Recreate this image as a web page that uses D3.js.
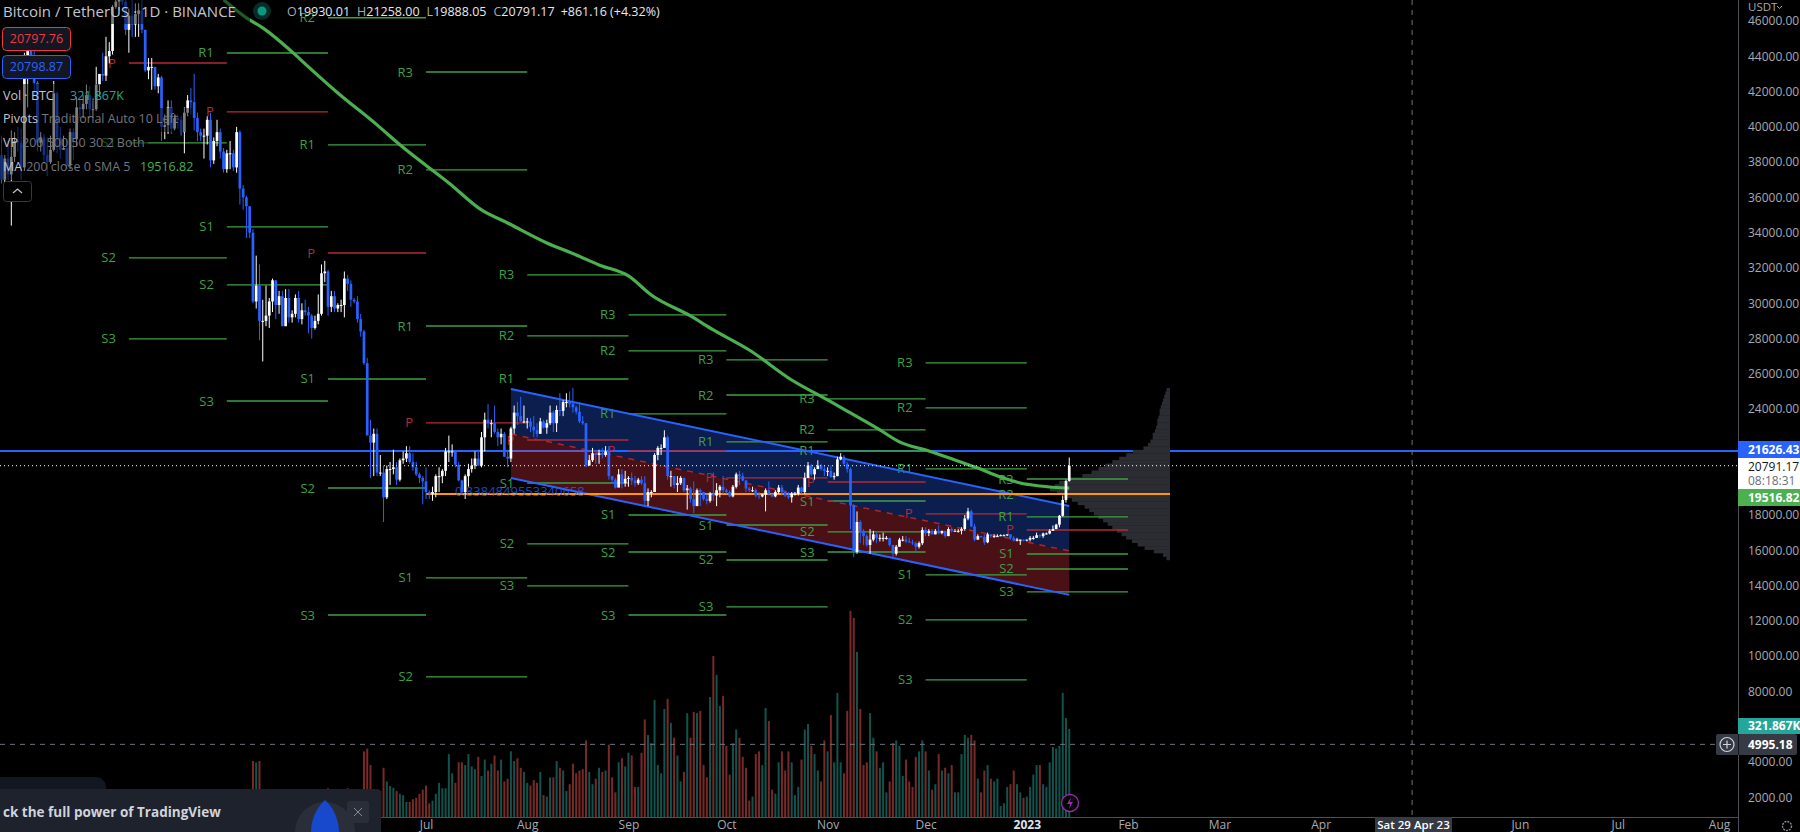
<!DOCTYPE html>
<html>
<head>
<meta charset="utf-8">
<title>BTCUSDT 1D</title>
<script src="https://cdn.jsdelivr.net/npm/d3@7"></script>
<style>
  html, body { margin: 0; background: #000; overflow: hidden; }
  text { font-family: "Open Sans", Roboto, sans-serif; }
</style>
</head>
<body>
<svg id="chart" width="1800" height="832"></svg>
<script>
// daily candles from 20 Feb 2022, one line per month, prices in thousands of USDT
const firstDay = new Date(Date.UTC(2022, 1, 20));

const candleOpen = [
  40.1,38.4,37.0,38.2,37.3,38.3,39.2,39.1,37.7,
  43.2,44.4,44.0,42.5,39.1,39.4,38.4,38.0,38.7,41.9,39.4,38.7,38.8,37.8,39.7,39.3,41.1,41.0,41.3,41.8,41.0,41.0,42.4,43.0,42.9,44.0,44.3,46.8,47.1,47.4,47.1,
  45.5,46.3,45.8,46.4,46.6,45.5,43.2,43.4,43.4,42.3,42.8,40.0,40.1,41.1,39.9,40.5,40.4,39.7,40.8,41.5,41.4,40.5,39.7,39.5,39.5,40.4,38.1,39.2,39.7,38.6,
  37.6,38.5,38.5,37.7,39.7,36.5,36.0,35.5,34.0,30.1,31.0,29.0,29.0,29.3,30.1,31.3,29.9,30.4,28.7,30.3,29.2,29.4,30.3,29.1,29.6,29.5,29.3,28.6,29.0,29.4,31.7,
  31.8,29.8,30.4,29.7,29.9,29.9,31.4,31.1,30.2,30.1,29.1,28.4,26.6,22.5,22.1,22.6,20.4,20.4,19.0,20.6,20.6,20.7,20.0,21.1,21.2,21.5,21.0,20.7,20.3,20.1,
  19.9,19.3,19.2,19.3,20.2,20.2,20.5,21.6,21.6,21.6,20.85,19.96,19.3,20.2,20.6,20.8,21.2,20.8,22.4,23.4,23.2,23.2,22.7,22.4,22.6,21.3,21.2,22.9,23.8,23.6,23.3,
  23.3,23.3,23.0,22.8,22.6,23.3,22.95,23.2,23.8,23.2,23.95,23.9,24.4,24.4,24.3,24.1,23.85,23.3,23.2,20.8,21.1,21.5,21.4,21.5,21.4,21.6,20.2,20.0,19.55,20.3,19.8,
  20.05,20.1,19.95,19.8,20.0,19.8,18.8,19.3,19.3,21.4,21.8,21.8,22.4,20.2,20.2,19.7,19.8,20.1,19.4,19.5,18.9,18.5,19.4,19.3,18.9,18.8,19.2,19.1,19.4,19.6,
  19.4,19.3,19.05,19.6,20.3,20.2,19.95,19.5,19.4,19.4,19.1,19.05,19.15,19.4,19.2,19.05,19.3,19.55,19.3,19.1,19.0,19.2,19.2,19.55,19.3,20.1,20.8,20.3,20.6,20.8,20.6,
  20.5,20.5,20.15,20.2,21.15,21.3,20.9,20.6,18.55,15.9,17.6,17.1,16.8,16.3,16.6,16.9,16.7,16.7,16.7,16.7,16.3,15.8,16.2,16.6,16.6,16.5,16.45,16.4,16.2,16.4,
  17.15,16.97,17.1,16.9,17.1,16.97,17.1,16.8,17.2,17.1,17.1,17.1,17.2,17.8,18.2,17.35,16.6,16.8,16.75,16.45,16.9,16.8,16.8,16.8,16.85,16.85,16.9,16.7,16.55,16.6,16.6,
  16.55,16.6,16.7,16.7,16.85,16.8,16.95,16.95,17.1,17.2,17.45,17.95,18.85,19.93
];
const candleHigh = [
  40.4,39.5,38.4,39.2,39.8,39.7,40.0,39.9,44.2,
  44.9,45.4,44.8,42.6,39.7,39.6,39.4,39.5,42.6,42.0,40.0,39.5,39.3,39.9,39.9,41.7,41.5,41.8,42.4,42.3,41.5,43.4,43.0,44.2,45.1,44.8,46.9,48.2,48.1,47.7,47.6,
  46.7,47.2,47.0,47.0,47.2,45.5,43.9,43.9,43.0,43.0,42.9,40.7,41.5,41.5,40.7,40.7,40.6,41.1,41.8,42.2,43.0,40.8,39.9,39.9,40.6,40.8,39.4,40.4,39.9,38.8,
  38.7,39.2,38.7,40.0,39.8,36.7,36.1,35.5,34.2,32.7,32.2,30.2,31.0,30.3,31.4,31.3,30.7,30.7,30.8,30.8,29.6,30.5,30.7,30.0,30.2,29.8,29.4,29.3,30.5,32.2,32.4,
  31.9,30.7,30.7,30.0,30.2,31.8,31.6,31.3,30.3,30.4,29.4,28.5,26.9,23.4,22.9,22.9,21.4,20.8,20.8,21.0,21.7,21.0,21.2,21.6,21.9,21.9,21.5,21.0,20.4,20.2,
  20.7,19.4,19.6,20.3,20.7,20.6,21.8,22.5,22.0,21.6,21.0,20.0,20.3,20.9,21.2,21.6,21.7,22.7,23.8,24.3,23.4,24.2,22.9,22.9,22.7,21.7,23.0,24.2,24.4,24.7,24.2,
  23.5,23.5,23.6,23.2,23.5,23.4,23.4,24.2,23.9,24.2,24.9,24.5,24.9,25.0,25.2,24.2,24.4,23.6,23.2,21.4,21.8,21.5,21.7,21.8,21.9,21.9,20.2,20.1,20.6,20.6,20.5,
  20.2,20.4,20.2,20.1,20.2,20.2,19.5,19.4,21.5,21.9,22.0,22.8,22.5,20.5,20.2,20.2,20.2,20.1,19.7,19.6,19.9,19.5,19.5,19.3,19.2,19.3,20.4,19.8,19.7,20.2,
  19.5,19.4,19.7,20.4,20.5,20.4,20.0,19.6,19.6,19.5,19.3,19.2,19.5,19.9,19.2,19.4,19.7,19.7,19.3,19.3,19.3,19.3,19.7,19.6,20.4,21.0,20.9,20.7,21.1,20.9,20.8,
  20.7,20.8,20.4,21.3,21.5,21.4,21.0,20.7,18.6,18.2,17.7,17.2,16.9,17.2,17.1,17.0,16.9,17.0,16.8,16.7,16.3,16.3,16.7,16.8,16.8,16.7,16.6,16.5,16.5,17.3,
  17.3,17.2,17.2,17.2,17.4,17.1,17.1,17.3,17.3,17.2,17.2,17.3,18.0,18.4,18.3,17.5,16.9,16.8,16.9,17.0,16.9,16.9,16.9,16.9,16.9,16.9,16.9,16.8,16.7,16.6,16.6,
  16.6,16.8,16.8,17.0,16.9,17.0,17.0,17.2,17.4,17.5,18.0,19.1,20.0,21.258
];
const candleLow = [
  38.0,36.8,36.4,37.0,34.4,38.0,38.6,37.0,37.5,
  41.1,43.3,41.8,38.6,38.6,37.9,37.2,37.9,38.6,38.5,38.2,38.7,37.6,37.6,38.1,38.9,40.5,40.5,41.0,40.5,40.5,40.9,41.7,42.6,42.6,43.6,44.1,46.7,46.6,46.9,45.2,
  44.2,45.1,45.1,45.1,45.3,43.1,42.7,42.1,42.1,41.9,39.2,39.3,39.6,39.6,39.8,39.9,39.5,38.5,40.6,40.7,39.8,39.2,39.2,38.2,39.0,37.7,37.9,38.9,38.2,37.4,
  37.4,37.6,37.5,37.4,35.6,35.3,33.7,33.7,30.0,29.7,27.9,26.7,28.7,28.6,29.5,29.1,29.4,28.7,28.7,28.9,28.9,29.2,28.9,28.8,29.3,28.3,28.0,28.5,28.8,29.3,31.2,
  29.3,29.5,29.5,29.5,29.5,29.2,30.7,29.8,30.0,28.9,28.1,26.5,22.6,20.1,20.2,20.2,20.2,17.6,18.9,19.7,20.3,19.7,19.9,20.9,21.0,20.9,20.5,20.2,19.8,18.6,
  18.9,18.9,18.8,19.0,19.3,19.8,20.2,21.0,21.3,20.7,19.9,19.2,18.9,19.6,20.4,20.6,20.8,20.7,21.6,22.9,22.4,22.6,21.9,22.0,21.3,20.7,21.0,22.6,23.1,23.3,23.2,
  22.9,22.7,22.4,22.4,22.6,22.9,22.6,23.1,22.7,22.7,23.6,23.6,24.1,24.1,23.8,23.7,23.2,23.1,20.7,20.8,21.0,20.9,20.9,21.2,21.3,20.0,19.8,19.5,19.6,19.5,19.6,
  19.6,19.7,19.6,19.7,19.7,18.5,18.5,19.0,19.3,21.1,21.4,21.8,20.0,19.6,19.5,19.3,19.7,19.3,18.3,18.7,18.1,18.6,18.5,18.8,18.6,18.7,18.8,18.5,19.0,19.2,
  19.2,19.0,19.0,19.5,19.7,19.9,19.3,19.3,19.3,19.0,18.9,19.0,18.2,19.1,19.0,19.0,19.2,19.1,19.0,18.9,18.7,19.1,19.1,19.2,19.2,20.1,20.2,20.0,20.6,20.5,20.2,
  20.2,20.1,20.0,20.2,21.1,20.8,20.4,17.2,15.6,15.8,16.4,16.3,16.2,15.8,16.5,16.4,16.5,16.5,16.6,16.2,15.5,15.7,16.2,16.5,16.4,16.4,16.3,15.9,16.1,16.3,
  16.8,16.8,16.9,16.9,16.9,16.9,16.7,16.8,17.0,17.1,17.0,16.9,17.1,17.7,17.3,16.5,16.6,16.7,16.3,16.4,16.7,16.7,16.8,16.8,16.8,16.8,16.6,16.5,16.5,16.3,16.5,
  16.5,16.5,16.6,16.7,16.7,16.7,16.9,16.9,17.1,17.2,17.3,17.9,18.7,19.888
];
const candleClose = [
  38.4,37.0,38.2,37.3,38.3,39.2,39.1,37.7,43.2,
  44.4,44.0,42.5,39.1,39.4,38.4,38.0,38.7,41.9,39.4,38.7,38.8,37.8,39.7,39.3,41.1,41.0,41.3,41.8,41.0,41.0,42.4,43.0,42.9,44.0,44.3,46.8,47.1,47.4,47.1,45.5,
  46.3,45.8,46.4,46.6,45.5,43.2,43.4,43.4,42.3,42.8,40.0,40.1,41.1,39.9,40.5,40.4,39.7,40.8,41.5,41.4,40.5,39.7,39.5,39.5,40.4,38.1,39.2,39.7,38.6,37.6,
  38.5,38.5,37.7,39.7,36.5,36.0,35.5,34.0,30.1,31.0,29.0,29.0,29.3,30.1,31.3,29.9,30.4,28.7,30.3,29.2,29.4,30.3,29.1,29.6,29.5,29.3,28.6,29.0,29.4,31.7,31.8,
  29.8,30.4,29.7,29.9,29.9,31.4,31.1,30.2,30.1,29.1,28.4,26.6,22.5,22.1,22.6,20.4,20.4,19.0,20.6,20.6,20.7,20.0,21.1,21.2,21.5,21.0,20.7,20.3,20.1,19.9,
  19.3,19.2,19.3,20.2,20.2,20.5,21.6,21.6,21.6,20.85,19.96,19.3,20.2,20.6,20.8,21.2,20.8,22.4,23.4,23.2,23.2,22.7,22.4,22.6,21.3,21.2,22.9,23.8,23.6,23.3,23.3,
  23.3,23.0,22.8,22.6,23.3,22.95,23.2,23.8,23.2,23.95,23.9,24.4,24.4,24.3,24.1,23.85,23.3,23.2,20.8,21.1,21.5,21.4,21.5,21.4,21.6,20.2,20.0,19.55,20.3,19.8,20.05,
  20.1,19.95,19.8,20.0,19.8,18.8,19.3,19.3,21.4,21.8,21.8,22.4,20.2,20.2,19.7,19.8,20.1,19.4,19.5,18.9,18.5,19.4,19.3,18.9,18.8,19.2,19.1,19.4,19.6,19.4,
  19.3,19.05,19.6,20.3,20.2,19.95,19.5,19.4,19.4,19.1,19.05,19.15,19.4,19.2,19.05,19.3,19.55,19.3,19.1,19.0,19.2,19.2,19.55,19.3,20.1,20.8,20.3,20.6,20.8,20.6,20.5,
  20.5,20.15,20.2,21.15,21.3,20.9,20.6,18.55,15.9,17.6,17.1,16.8,16.3,16.6,16.9,16.7,16.7,16.7,16.7,16.3,15.8,16.2,16.6,16.6,16.5,16.45,16.4,16.2,16.4,17.15,
  16.97,17.1,16.9,17.1,16.97,17.1,16.8,17.2,17.1,17.1,17.1,17.2,17.8,18.2,17.35,16.6,16.8,16.75,16.45,16.9,16.8,16.8,16.8,16.85,16.85,16.9,16.7,16.55,16.6,16.6,16.55,
  16.6,16.7,16.7,16.85,16.8,16.95,16.95,17.1,17.2,17.45,17.95,18.85,19.93,20.791
];
// volume in thousands of BTC
const volumeK = [
  30,65,70,65,95,60,30,40,80,
  85,70,55,60,40,25,50,50,50,95,50,25,25,55,60,50,50,30,25,25,30,35,40,35,25,25,30,55,60,50,40,
  55,35,25,40,50,60,55,40,30,30,60,50,45,45,30,25,30,40,40,30,50,50,25,20,50,60,50,60,50,35,
  30,50,50,60,85,70,35,60,205,200,205,95,70,50,50,60,50,60,55,60,25,25,60,45,45,80,75,25,25,70,60,
  105,50,40,30,35,60,105,45,40,60,60,240,250,190,100,95,95,180,130,113,107,95,85,80,55,55,65,70,85,100,
  115,50,60,85,125,105,105,230,160,125,200,200,190,230,185,175,220,150,210,170,195,225,170,210,130,140,240,205,215,180,165,
  125,115,135,125,165,80,75,145,145,205,180,170,95,120,195,160,170,175,280,165,120,140,180,165,170,265,145,90,200,215,185,
  235,225,110,110,235,357,300,270,428,190,160,395,432,344,290,225,130,165,380,290,384,380,388,190,145,439,589,520,406,443,
  260,155,270,320,290,220,180,60,75,230,240,190,399,351,100,85,200,240,170,240,200,80,110,210,320,340,260,230,170,130,280,
  240,373,200,454,200,160,388,754,728,604,395,190,200,380,290,240,180,200,90,130,270,280,260,150,210,130,110,220,240,280,
  240,170,100,120,230,170,180,160,190,90,90,230,300,290,300,280,140,90,170,190,140,130,140,40,50,110,120,170,120,90,70,
  75,110,155,190,190,120,110,200,256,250,260,454,362,321.867
];

// 200 day average, read every week or two
const maDates = ["2022-04-30","2022-05-07","2022-05-12","2022-05-22","2022-05-26","2022-06-04","2022-06-16","2022-06-23","2022-07-08","2022-07-18","2022-07-26","2022-08-07","2022-08-16","2022-08-23","2022-09-01","2022-09-08","2022-09-20","2022-09-27","2022-10-08","2022-10-21","2022-11-01","2022-11-08","2022-11-17","2022-11-23","2022-12-02","2022-12-10","2022-12-17","2022-12-24","2022-12-30","2023-01-05","2023-01-14"];
const maValues = [47200,46180,45610,44080,43400,41920,40110,38980,36820,35290,34550,33420,32740,32170,31550,30470,29280,28490,27350,25650,24520,23780,22820,22140,21630,21120,20660,20150,19810,19640,19516.82];

// monthly pivots
const pivotStarts = ["2022-04-01","2022-05-01","2022-06-01","2022-07-01","2022-08-01","2022-09-01","2022-10-01","2022-11-01","2022-12-01","2023-01-01","2023-02-01"];
const pivotP  = [43620,40850,32850,23220,22250,21630,20100,19870,18060,17150];
const pivotR1 = [null,44190,38980,28710,25710,23730,22140,21630,20610,17890];
const pivotR2 = [null,null,46180,37560,28150,27300,24800,22820,24070,19190];
const pivotR3 = [null,null,null,43110,31610,29340,26790,24580,26620,20040];
const pivotS1 = [39090,34330,25710,14430,19810,18000,17430,18790,14600,15790];
const pivotS2 = [32570,31040,19530,8820,16360,15900,15450,17040,12050,14940];
const pivotS3 = [27980,24460,12330,null,13980,12330,12790,15900,8650,13640];

// falling channel
const channelDates = ["2022-07-27","2023-01-14"];
const channelTop = [25140,18510];
const channelMid = [22590,15960];
const channelBottom = [20100,13470];

// visible range volume profile, top row first
const vpTopPrice = 25200;
const vpRowStep = 195;
const vpVolume = [3,4,5,6,7,8,9,9,10,11,11,12,13,15,15,17,19,23,32,38,44,50,56,62,68,76,88,96,100,104,98,92,85,80,74,70,66,62,58,54,50,46,42,38,33,28,22,14,6,3];
const pocPrice = 19190;
const pocStart = "2022-07-01";

const priceTicks = [46000,44000,42000,40000,38000,36000,34000,32000,30000,28000,26000,24000,18000,16000,14000,12000,10000,8000,4000,2000];
const timeTicks = ["2022-07-01","2022-08-01","2022-09-01","2022-10-01","2022-11-01","2022-12-01","2023-01-01","2023-02-01","2023-03-01","2023-04-01","2023-06-01","2023-07-01","2023-08-01"];
const timeLabels = ["Jul","Aug","Sep","Oct","Nov","Dec","2023","Feb","Mar","Apr","Jun","Jul","Aug"];

const lastPrice = 20791.17;
const bluePrice = 21626.43;
const maLast = 19516.82;
const crossPrice = 4995.18;
const crossDate = "2023-04-29";

const GREEN = "#3ea044", RED = "#b52a36", BLUE = "#2962ff";
const paneW = 1738, paneH = 817;

const parse = d3.utcParse("%Y-%m-%d");
const x = d3.scaleUtc().domain([parse("2022-07-01"), parse("2023-01-01")]).range([426, 1026.8]);
const y = d3.scaleLinear().domain([2000, 46000]).range([797.2, 21]);
const yVol = d3.scaleLinear().domain([0, 321.867]).range([paneH, 729]);
const vpX = d3.scaleLinear().domain([0, 104]).range([1170, 1050]);

const svg = d3.select("#chart");
svg.append("defs").append("clipPath").attr("id", "pane")
  .append("rect").attr("width", paneW).attr("height", paneH);
const pane = svg.append("g").attr("clip-path", "url(#pane)");

const candles = candleClose.map((c, i) => ({
  date: d3.utcDay.offset(firstDay, i),
  o: candleOpen[i] * 1000, h: candleHigh[i] * 1000, l: candleLow[i] * 1000, c: c * 1000,
  v: volumeK[i]
}));

// volume
pane.append("g").selectAll("rect").data(candles).join("rect")
  .attr("x", d => x(d.date) - 1)
  .attr("width", 2)
  .attr("y", d => yVol(d.v))
  .attr("height", d => paneH - yVol(d.v))
  .attr("fill", d => d.c >= d.o ? "#13534d" : "#782a28");

// horizontal drawing, sits under the channel fill
pane.append("line").attr("x1", 0).attr("x2", paneW)
  .attr("y1", y(bluePrice)).attr("y2", y(bluePrice))
  .attr("stroke", BLUE).attr("stroke-width", 2);

// channel
const cx0 = x(parse(channelDates[0])), cx1 = x(parse(channelDates[1]));
const band = (a, b) => `M${cx0},${y(a[0])}L${cx1},${y(a[1])}L${cx1},${y(b[1])}L${cx0},${y(b[0])}Z`;
pane.append("path").attr("d", band(channelTop, channelMid)).attr("fill", BLUE).attr("fill-opacity", 0.3);
pane.append("path").attr("d", band(channelMid, channelBottom)).attr("fill", "#f23645").attr("fill-opacity", 0.3);

// profile rows
pane.append("g").selectAll("rect").data(vpVolume).join("rect")
  .attr("x", d => vpX(d))
  .attr("width", d => vpX(0) - vpX(d))
  .attr("y", (d, i) => y(vpTopPrice - i * vpRowStep))
  .attr("height", (d, i) => y(vpTopPrice - (i + 1) * vpRowStep) - y(vpTopPrice - i * vpRowStep) + 0.3)
  .attr("fill", "#2b2d33");

// pivots
const pivotRows = [["P", pivotP, RED], ["R1", pivotR1, GREEN], ["R2", pivotR2, GREEN], ["R3", pivotR3, GREEN],
                   ["S1", pivotS1, GREEN], ["S2", pivotS2, GREEN], ["S3", pivotS3, GREEN]];
const pivotData = [];
pivotRows.forEach(([name, values, color]) => {
  values.forEach((v, i) => {
    if (v !== null) pivotData.push({ name, v, color, start: parse(pivotStarts[i]), end: parse(pivotStarts[i + 1]) });
  });
});
const pivotG = pane.append("g");
pivotG.selectAll("line").data(pivotData).join("line")
  .attr("x1", d => x(d.start)).attr("x2", d => x(d.end))
  .attr("y1", d => y(d.v)).attr("y2", d => y(d.v))
  .attr("stroke", d => d.color).attr("stroke-width", 1.4);
pivotG.selectAll("text").data(pivotData).join("text")
  .attr("x", d => x(d.start) - 13).attr("y", d => y(d.v))
  .attr("dy", "0.35em").attr("text-anchor", "end")
  .attr("fill", d => d.color).attr("font-size", 13)
  .text(d => d.name);

// channel borders and middle
const edge = vals => d3.line().x((d, i) => i ? cx1 : cx0).y(d => y(d))(vals);
pane.append("path").attr("d", edge(channelTop)).attr("stroke", BLUE).attr("stroke-width", 2).attr("fill", "none");
pane.append("path").attr("d", edge(channelBottom)).attr("stroke", BLUE).attr("stroke-width", 2).attr("fill", "none");
pane.append("path").attr("d", edge(channelMid)).attr("stroke", "#a92733").attr("stroke-width", 1.5)
  .attr("stroke-dasharray", "6 6").attr("fill", "none");

// MA
const maLine = d3.line().x((d, i) => x(parse(maDates[i]))).y(d => y(d)).curve(d3.curveMonotoneX);
pane.append("path").attr("d", maLine(maValues)).attr("fill", "none").attr("stroke", "#4caf50").attr("stroke-width", 3.2);

// POC
pane.append("line").attr("x1", x(parse(pocStart))).attr("x2", vpX(0))
  .attr("y1", y(pocPrice)).attr("y2", y(pocPrice))
  .attr("stroke", "#ff9800").attr("stroke-width", 2);

// candles
const candleG = pane.selectAll("g.c").data(candles).join("g").attr("class", "c");
candleG.append("line")
  .attr("x1", d => x(d.date)).attr("x2", d => x(d.date))
  .attr("y1", d => y(d.h)).attr("y2", d => y(d.l))
  .attr("stroke", d => d.c >= d.o ? "#fff" : BLUE).attr("stroke-width", 1);
candleG.append("rect")
  .attr("x", d => x(d.date) - 1.35).attr("width", 2.7)
  .attr("y", d => y(Math.max(d.o, d.c)))
  .attr("height", d => Math.max(1, Math.abs(y(d.o) - y(d.c))))
  .attr("fill", d => d.c >= d.o ? "#fff" : BLUE);

// fib text left behind on the chart
pane.append("text").attr("x", 455).attr("y", 491).attr("dy", "0.35em")
  .attr("fill", BLUE).attr("fill-opacity", 0.75).attr("font-size", 13)
  .text("0.8384849553340658");

// last price and crosshair
pane.append("line").attr("x1", 0).attr("x2", paneW).attr("y1", y(lastPrice)).attr("y2", y(lastPrice))
  .attr("stroke", "#fff").attr("stroke-dasharray", "1 3");
pane.append("line").attr("x1", 0).attr("x2", paneW).attr("y1", y(crossPrice)).attr("y2", y(crossPrice))
  .attr("stroke", "#6f727d").attr("stroke-dasharray", "5 5");
pane.append("line").attr("x1", x(parse(crossDate))).attr("x2", x(parse(crossDate))).attr("y1", 0).attr("y2", paneH)
  .attr("stroke", "#6f727d").attr("stroke-dasharray", "5 5");

// axes
const styleAxis = g => {
  g.select(".domain").remove();
  g.selectAll("text").attr("fill", "#a7aab3").attr("font-size", 12).attr("font-family", "Roboto, sans-serif");
};
svg.append("line").attr("x1", paneW + 0.5).attr("x2", paneW + 0.5).attr("y1", 0).attr("y2", 832).attr("stroke", "#4d4f55");
svg.append("line").attr("x1", 0).attr("x2", paneW).attr("y1", paneH + 0.5).attr("y2", paneH + 0.5).attr("stroke", "#4d4f55");
svg.append("g").attr("transform", `translate(${paneW},0)`)
  .call(d3.axisRight(y).tickValues(priceTicks).tickSize(0).tickPadding(10).tickFormat(d3.format(".2f")))
  .call(styleAxis);
svg.append("g").attr("transform", `translate(0,${paneH})`)
  .call(d3.axisBottom(x).tickValues(timeTicks.map(parse)).tickSize(0).tickPadding(3).tickFormat((d, i) => timeLabels[i]))
  .call(styleAxis)
  .call(g => g.selectAll("text").filter(d => +d === +parse("2023-01-01")).attr("fill", "#e0e3eb").attr("font-weight", 700));

// price labels on the scale
const scaleTag = (top, h, fill, label, color, weight) => {
  svg.append("rect").attr("x", paneW).attr("y", top).attr("width", 62).attr("height", h).attr("fill", fill);
  svg.append("text").attr("x", 1748).attr("y", top + h / 2).attr("dy", "0.35em")
    .attr("fill", color).attr("font-size", 12).attr("font-weight", weight || 700)
    .attr("font-family", "Roboto, sans-serif").text(label);
};
scaleTag(441, 17, BLUE, bluePrice.toFixed(2), "#fff");
scaleTag(458, 31, "#fff", "", "#000");
svg.append("text").attr("x", 1748).attr("y", 467).attr("dy", "0.35em").attr("fill", "#131722").attr("font-size", 12).attr("font-family", "Roboto, sans-serif").text(lastPrice.toFixed(2));
svg.append("text").attr("x", 1748).attr("y", 480.5).attr("dy", "0.35em").attr("fill", "#6a6d78").attr("font-size", 12).attr("font-family", "Roboto, sans-serif").text("08:18:31");
scaleTag(489, 17, "#4caf50", maLast.toFixed(2), "#fff");
scaleTag(718, 16, "#26a69a", "321.867K", "#fff");
svg.append("rect").attr("x", 1716).attr("y", 734).attr("width", 81).attr("height", 21).attr("rx", 2).attr("fill", "#363a45");
svg.append("line").attr("x1", paneW + 0.5).attr("x2", paneW + 0.5).attr("y1", 734).attr("y2", 755).attr("stroke", "#131722");
svg.append("text").attr("x", 1748).attr("y", 744.5).attr("dy", "0.35em").attr("fill", "#fff").attr("font-size", 12).attr("font-weight", 700).attr("font-family", "Roboto, sans-serif").text(crossPrice.toFixed(2));
svg.append("circle").attr("cx", 1727).attr("cy", 744.5).attr("r", 7).attr("fill", "none").attr("stroke", "#d1d4dc").attr("stroke-width", 1.2);
svg.append("path").attr("d", "M1723,744.5h8M1727,740.5v8").attr("stroke", "#d1d4dc").attr("stroke-width", 1.2);
svg.append("text").attr("x", 1748).attr("y", 7).attr("dy", "0.35em").attr("fill", "#a7aab3").attr("font-size", 11.5).attr("font-family", "Roboto, sans-serif").text("USDT");
svg.append("path").attr("d", "M1777,6l2.5,2.5l2.5,-2.5").attr("fill", "none").attr("stroke", "#a7aab3");

// crosshair date tag
svg.append("rect").attr("x", 1375).attr("y", paneH).attr("width", 77).attr("height", 15).attr("fill", "#363a45");
svg.append("text").attr("x", 1413.5).attr("y", 825).attr("dy", "0.35em").attr("text-anchor", "middle")
  .attr("fill", "#fff").attr("font-size", 11.5).attr("font-weight", 600).attr("font-family", "Roboto, sans-serif").text("Sat 29 Apr 23");

// settings gear, bottom right
svg.append("circle").attr("cx", 1787).attr("cy", 826).attr("r", 4.5).attr("fill", "none").attr("stroke", "#8a8d97").attr("stroke-dasharray", "2 1").attr("stroke-width", 1.4);

// alert badge next to the last candle
svg.append("circle").attr("cx", 1070).attr("cy", 803).attr("r", 8.5).attr("fill", "#000").attr("stroke", "#9c27b0").attr("stroke-width", 1.3);
svg.append("path").attr("d", "M1071,797l-4,7h3l-1,5l4,-7h-3z").attr("fill", "#9c27b0");

// legend: translucent row backings dim the candles behind the text
const legendRows = [[0, 24, 250], [84, 24, 128], [108, 24, 192], [132, 24, 148], [156, 24, 196]];
svg.append("g").selectAll("rect").data(legendRows).join("rect")
  .attr("x", 0).attr("y", d => d[0]).attr("width", d => d[2]).attr("height", d => d[1])
  .attr("fill", "#000").attr("fill-opacity", 0.5);

svg.append("text").attr("x", 3).attr("y", 12).attr("dy", "0.35em").attr("fill", "#c3c6ce").attr("font-size", 15).text("Bitcoin / TetherUS · 1D · BINANCE");
svg.append("circle").attr("cx", 262).attr("cy", 11).attr("r", 9).attr("fill", "#0b2b28");
svg.append("circle").attr("cx", 262).attr("cy", 11).attr("r", 4.5).attr("fill", "#089981");

const ohlc = svg.append("text").attr("x", 287).attr("y", 12).attr("dy", "0.35em").attr("font-size", 12.5).attr("fill", "#e6e8ee");
[["O", "19930.01"], ["H", "21258.00"], ["L", "19888.05"], ["C", "20791.17"]].forEach(([k, v], i) => {
  ohlc.append("tspan").attr("dx", i ? 7 : 0).attr("fill", "#a7aab3").text(k);
  ohlc.append("tspan").text(v);
});
ohlc.append("tspan").attr("dx", 6).text("+861.16 (+4.32%)");

const priceBox = (top, stroke, label) => {
  svg.append("rect").attr("x", 2.5).attr("y", top).attr("width", 68).attr("height", 23).attr("rx", 4)
    .attr("fill", "#131722").attr("stroke", stroke);
  svg.append("text").attr("x", 36.5).attr("y", top + 11.5).attr("dy", "0.35em").attr("text-anchor", "middle")
    .attr("fill", stroke).attr("font-size", 12.5).text(label);
};
priceBox(27.5, "#f23645", "20797.76");
priceBox(55.5, BLUE, "20798.87");

const legendLine = (top, head, rest, val, valX, valColor) => {
  const t = svg.append("text").attr("x", 3).attr("y", top).attr("dy", "0.35em").attr("font-size", 12.5);
  t.append("tspan").attr("fill", "#c3c6ce").text(head);
  t.append("tspan").attr("dx", 4).attr("fill", "#73767f").text(rest);
  if (val) svg.append("text").attr("x", valX).attr("y", top).attr("dy", "0.35em").attr("fill", valColor).attr("font-size", 12.5).text(val);
};
legendLine(96, "Vol · BTC", "", "321.867K", 70, "#26a69a");
legendLine(119, "Pivots", "Traditional Auto 10 Left", "", 0, "");
legendLine(143, "VP", "200 500 50 30 2 Both", "", 0, "");
legendLine(167, "MA", "200 close 0 SMA 5", "19516.82", 140, "#4caf50");
svg.append("rect").attr("x", 3.5).attr("y", 181.5).attr("width", 28).attr("height", 20).attr("rx", 3).attr("fill", "#000").attr("stroke", "#363a45");
svg.append("path").attr("d", "M13,193l4.5,-4l4.5,4").attr("fill", "none").attr("stroke", "#c3c6ce").attr("stroke-width", 1.2);

// promo banner along the bottom
svg.append("path").attr("d", "M0,777H96a10,10 0 0 1 10,10V832H0Z").attr("fill", "#131722");
svg.append("path").attr("d", "M0,789H377a4,4 0 0 1 4,4V832H0Z").attr("fill", "#1e222d");
svg.append("text").attr("x", 3).attr("y", 812).attr("dy", "0.35em").attr("fill", "#d1d4dc").attr("font-size", 13.5).attr("font-weight", 700).text("ck the full power of TradingView");
svg.append("path").attr("d", "M295,832a30,30 0 0 1 60,0Z").attr("fill", "#2a2e39");
svg.append("path").attr("d", "M325,800c-7,6 -14,18 -14,32h28c0,-14 -7,-26 -14,-32z").attr("fill", "#1848cc");
svg.append("rect").attr("x", 347).attr("y", 801).attr("width", 22).attr("height", 22).attr("rx", 3).attr("fill", "#2a2e39");
svg.append("path").attr("d", "M354,808l8,8M362,808l-8,8").attr("stroke", "#868993");
</script>
</body>
</html>
